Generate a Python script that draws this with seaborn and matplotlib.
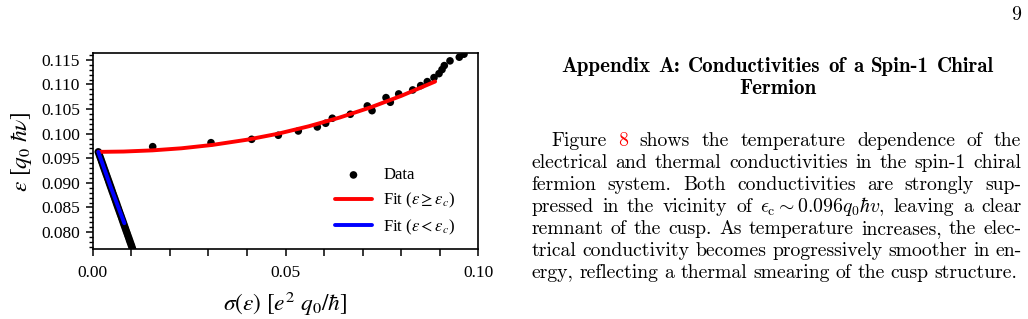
import numpy as np
import pandas as pd
import matplotlib
matplotlib.use("Agg")
import matplotlib.pyplot as plt
import seaborn as sns
from matplotlib.ticker import MultipleLocator, FormatStrFormatter
from matplotlib.font_manager import FontProperties

# ---------------- data ----------------
sigma_lower = [0.00145, 0.00168, 0.00190, 0.00213, 0.00235, 0.00258, 0.00280, 0.00303,
               0.00326, 0.00348, 0.00371, 0.00393, 0.00416, 0.00438, 0.00461, 0.00484,
               0.00506, 0.00529, 0.00551, 0.00574, 0.00596, 0.00619, 0.00641, 0.00664,
               0.00687, 0.00709, 0.00732, 0.00754, 0.00777, 0.00799, 0.00822, 0.00845,
               0.00867, 0.00890, 0.00912, 0.00935, 0.00957, 0.00980, 0.01003, 0.01025,
               0.01048]
eps_lower = [0.0963, 0.0958, 0.0953, 0.0948, 0.0943, 0.0938, 0.0933, 0.0928,
             0.0923, 0.0918, 0.0913, 0.0908, 0.0903, 0.0898, 0.0893, 0.0888,
             0.0883, 0.0878, 0.0873, 0.0868, 0.0863, 0.0858, 0.0853, 0.0848,
             0.0843, 0.0838, 0.0833, 0.0828, 0.0823, 0.0818, 0.0813, 0.0808,
             0.0803, 0.0798, 0.0793, 0.0788, 0.0783, 0.0778, 0.0773, 0.0768,
             0.0763]
sigma_upper = [0.01556, 0.03068, 0.04123, 0.04814, 0.05332, 0.05825, 0.06042, 0.06214,
               0.06681, 0.07122, 0.07244, 0.07607, 0.07718, 0.07936, 0.08299, 0.08506,
               0.08677, 0.08851, 0.08981, 0.09059, 0.09118, 0.09266, 0.09507, 0.09629]
eps_upper = [0.09736, 0.09817, 0.09886, 0.09968, 0.10055, 0.10137, 0.10212, 0.10314,
             0.10395, 0.10564, 0.10468, 0.10733, 0.10639, 0.10808, 0.10889, 0.10977,
             0.11058, 0.11140, 0.11221, 0.11303, 0.11384, 0.11480, 0.11555, 0.11616]

fit_hi_sigma = [0.0015, 0.0080, 0.0155, 0.0230, 0.0310, 0.0400, 0.0480, 0.0560,
                0.0640, 0.0720, 0.0800, 0.0888]
fit_hi_eps = [0.0963, 0.09637, 0.09661, 0.09703, 0.09771, 0.09877, 0.09998, 0.1015,
              0.10327, 0.10533, 0.10768, 0.1106]
fit_lo_sigma = [0.00145, 0.0048, 0.0082]
fit_lo_eps = [0.0963, 0.0889, 0.0818]

x_ticks = [0.0, 0.05, 0.10]
labels = ["Data", r"Fit ($\varepsilon \geq \varepsilon_c$)", r"Fit ($\varepsilon < \varepsilon_c$)"]

# ---------------- styling ----------------
sns.set_theme(style="ticks")
plt.rcParams["font.family"] = ["Liberation Serif", "DejaVu Serif"]
plt.rcParams["mathtext.fontset"] = "stix"

W, H = 1028, 319
fig = plt.figure(figsize=(W / 100, H / 100), dpi=100)
fig.patch.set_facecolor("white")
ax = fig.add_axes([92.7 / W, 1 - 249.3 / H, (478.3 - 92.7) / W, (249.3 - 53) / H])
ax.set_facecolor("white")

df_pts = pd.DataFrame({"sigma": sigma_lower + sigma_upper, "eps": eps_lower + eps_upper})
sns.scatterplot(data=df_pts, x="sigma", y="eps", color="black", s=30, edgecolor="none",
                label=labels[0], ax=ax, zorder=2)
sns.lineplot(x=fit_hi_sigma, y=fit_hi_eps, color="#ff0000", lw=2.8, sort=False,
             label=labels[1], ax=ax, zorder=3)
sns.lineplot(x=fit_lo_sigma, y=fit_lo_eps, color="#0000ff", lw=2.8, sort=False,
             label=labels[2], ax=ax, zorder=4)

ax.set_xlim(0, 0.10)
ax.set_ylim(0.0765, 0.1164)
ax.set_xticks(x_ticks)
ax.xaxis.set_major_formatter(FormatStrFormatter("%.2f"))
ax.xaxis.set_minor_locator(MultipleLocator(0.01))
ax.yaxis.set_major_locator(MultipleLocator(0.005))
ax.yaxis.set_major_formatter(FormatStrFormatter("%.3f"))
ax.yaxis.set_minor_locator(MultipleLocator(0.001))
ax.tick_params(axis="both", which="major", direction="out", length=5, width=1.1,
               labelsize=12.5, pad=4, color="black", labelcolor="black")
ax.tick_params(axis="x", which="major", pad=6.5)
ax.tick_params(axis="x", which="minor", direction="out", length=5, width=1.1, color="black")
ax.tick_params(axis="y", which="minor", direction="out", length=2.6, width=1.0, color="black")
for sp in ax.spines.values():
    sp.set_visible(True)
    sp.set_linewidth(1.2)
    sp.set_color("black")

ax.set_xlabel(r"$\sigma(\varepsilon)\ [e^2\ q_0/\hbar]$", fontsize=16.8, labelpad=6, color="black")
ax.set_ylabel(r"$\varepsilon\ [q_0\ \hbar\nu]$", fontsize=16.8, labelpad=5, color="black")

leg = ax.legend(frameon=False, loc="lower right", bbox_to_anchor=(0.958, 0.03),
                fontsize=12, handlelength=2.2, labelspacing=0.45, handletextpad=0.7,
                borderaxespad=0.0)
for t in leg.get_texts():
    t.set_color("black")

# ---------------- right-hand page text ----------------
renderer = fig.canvas.get_renderer()
BASE = 13.2


def px(x, y):
    return x / W, 1 - y / H


def word_width(words, fp):
    probe = [fig.text(0, 0, w, fontproperties=fp) for w in words]
    s = sum(p.get_window_extent(renderer).width for p in probe)
    for p in probe:
        p.remove()
    return s


def place_words(tokens, y_base, x_left, x_right=None, fp=None, gap=None, center=None):
    texts = []
    for tok in tokens:
        s, c = tok if isinstance(tok, tuple) else (tok, "black")
        t = fig.text(0, 0, s, fontproperties=fp, color=c, va="baseline", ha="left")
        texts.append(t)
    widths = [t.get_window_extent(renderer).width for t in texts]
    total = sum(widths)
    if x_right is not None:
        g = (x_right - x_left - total) / max(len(texts) - 1, 1)
    else:
        g = gap
    if center is not None:
        x_left = center - (total + g * (len(texts) - 1)) / 2
    x = x_left
    for t, w in zip(texts, widths):
        t.set_position(px(x, y_base))
        x += w + g


L, R = 531.5, 1021.5

# body size chosen so that a typical line fills the column naturally
ref_line = ["electrical", "and", "thermal", "conductivities", "in", "the", "spin-1", "chiral"]
fp0 = FontProperties(family="cmr10", size=BASE)
nat0 = word_width(ref_line, fp0) + 7 * 0.333 * BASE * 100 / 72
BODY = BASE * (R - L - 6) / nat0
fp_body = FontProperties(family="cmr10", size=BODY, math_fontfamily="cm")

# heading (bold), scaled to reference width
head1 = ["Appendix", "A:", "Conductivities", "of", "a", "Spin-1", "Chiral"]
head2 = ["Fermion"]
fpb = FontProperties(family="cmb10", size=BASE)
nat = word_width(head1, fpb) + 6 * 0.38 * BASE * 100 / 72
hsize = BASE * 431.0 / nat
fp_head = FontProperties(family="cmb10", size=hsize)
hgap = 0.38 * hsize * 100 / 72
place_words(head1, 72.5, 0, fp=fp_head, gap=hgap, center=777.5)
place_words(head2, 93.5, 0, fp=fp_head, gap=hgap, center=777.5)

# page number
fig.text(1021 / W, 1 - 20.5 / H, "9", fontproperties=fp_body, ha="right", va="baseline", color="black")

para = [
    (["Figure", ("8", "#ff0000"), "shows", "the", "temperature", "dependence", "of", "the"], L + 19.5, R),
    (["electrical", "and", "thermal", "conductivities", "in", "the", "spin-1", "chiral"], L, R),
    (["fermion", "system.", "Both", "conductivities", "are", "strongly", "sup-"], L, R),
    (["pressed", "in", "the", "vicinity", "of", r"$\epsilon_\mathrm{c} \sim 0.096q_0\hbar v$,",
      "leaving", "a", "clear"], L, R),
    (["remnant", "of", "the", "cusp.", "As", "temperature", "increases,", "the", "elec-"], L, R),
    (["trical", "conductivity", "becomes", "progressively", "smoother", "in", "en-"], L, R),
    (["ergy,", "reflecting", "a", "thermal", "smearing", "of", "the", "cusp", "structure."], L, 1017.5),
]
y0 = 146.0
for i, (toks, xl, xr) in enumerate(para):
    place_words(toks, y0 + i * 22.0, xl, xr, fp=fp_body)

fig.savefig("out.png", dpi=100, facecolor="white")
